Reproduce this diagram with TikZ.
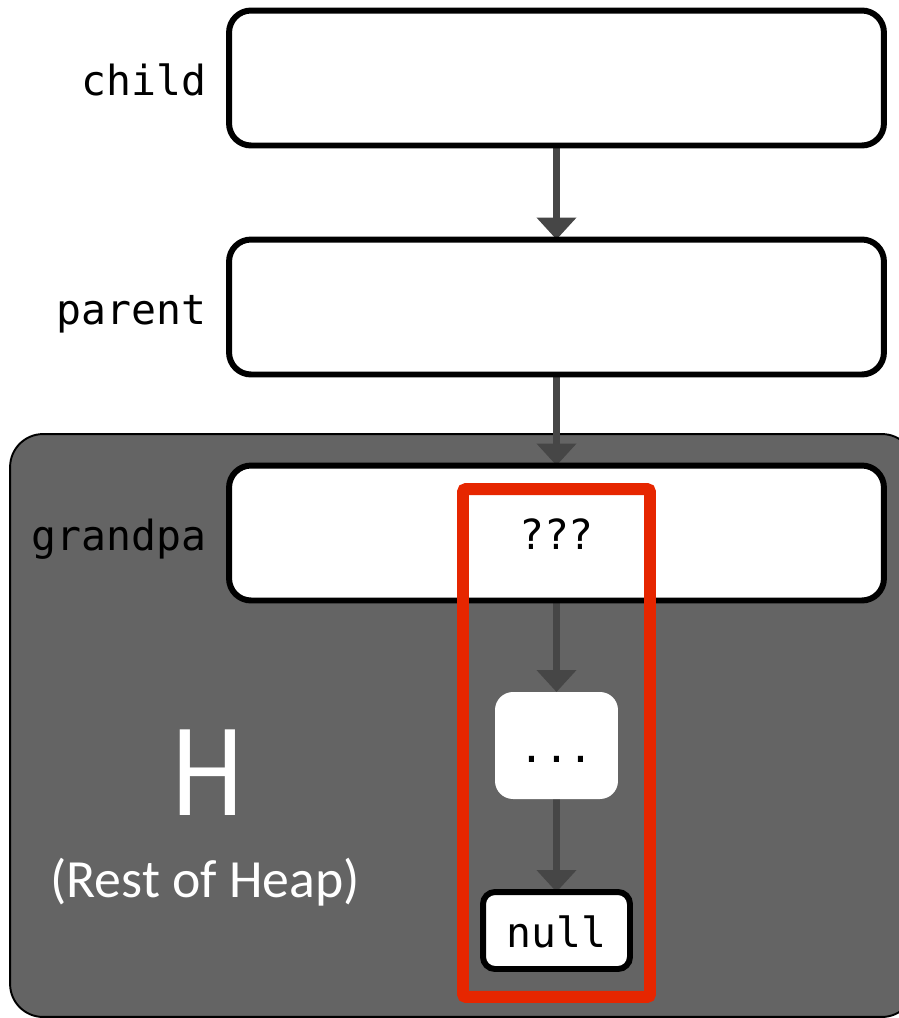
\documentclass[tikz,border=0pt]{standalone}
\usepackage{fontspec}
\usetikzlibrary{arrows.meta,backgrounds}
\newfontfamily\monof{DejaVu Sans Mono}
\newfontfamily\carl{Carlito}
\definecolor{heapgray}{HTML}{646464}
\definecolor{arrgray}{HTML}{464646}
\definecolor{redbox}{HTML}{E62600}
\tikzset{
  membox/.style={draw=black, line width=3.4pt, rounded corners=0.44cm, fill=white,
    minimum width=13.1cm, minimum height=2.7cm, inner sep=0pt, outer sep=0pt,
    font=\monof\fontsize{23.6pt}{28pt}\selectfont, text height=0.66cm, text depth=0pt},
  varlabel/.style={anchor=base east, inner sep=0pt, font=\monof\fontsize{23.6pt}{28pt}\selectfont},
  ptr/.style={draw=arrgray, line width=4.5pt, -{Triangle[width=22pt,length=12.5pt]}},
}
\begin{document}
\begin{tikzpicture}[x=0.02cm,y=-0.02cm]
\useasboundingbox (0,0) rectangle (899,1018);
\clip (0,0) rectangle (899,1018);
\begin{scope}[on background layer]
  \node (heap) [draw=black, fill=heapgray, line width=1.1pt, rounded corners=0.66cm,
    minimum width=18.1cm, minimum height=11.66cm, inner sep=0pt, outer sep=0pt] at (462.5,725.5) {};
\end{scope}
\node (child) [membox] at (556.5,78) {};
\node (parent) [membox] at (556.5,307) {};
\node (grandpa) [membox] at (556.5,533) {???};
\node (dots) [membox, draw=none, minimum width=2.46cm, minimum height=2.14cm, rounded corners=0.36cm] at (556.5,745.5) {...};
\node (null) [membox, minimum width=2.94cm, minimum height=1.54cm, rounded corners=0.24cm] at (556.5,930.5) {null};
\node (lchild) [varlabel] at (207,95) {child};
\node (lparent) [varlabel] at (207,324) {parent};
\node (lgrandpa) [varlabel] at (207,550) {grandpa};
\node (H) [anchor=base, inner sep=0pt, text=white, xscale=0.85, font=\carl\fontsize{76pt}{80pt}\selectfont] at (208,815) {H};
\node (rest) [anchor=base, inner sep=0pt, text=white, font=\carl\fontsize{30.6pt}{36pt}\selectfont] at (205,897) {(Rest of Heap)};
\begin{scope}[on background layer]
  \draw[ptr] (child.south) -- (parent.north);
  \draw[ptr] (parent.south) -- (grandpa.north);
  \draw[ptr] (grandpa.south) -- (dots.north);
  \draw[ptr] (dots.south) -- (null.north);
\end{scope}
\node (focus) [draw=redbox, line width=6.8pt, rounded corners=0.06cm, minimum width=3.74cm, minimum height=10.16cm, inner sep=0pt, outer sep=0pt] at (556.5,743) {};
\end{tikzpicture}
\end{document}
